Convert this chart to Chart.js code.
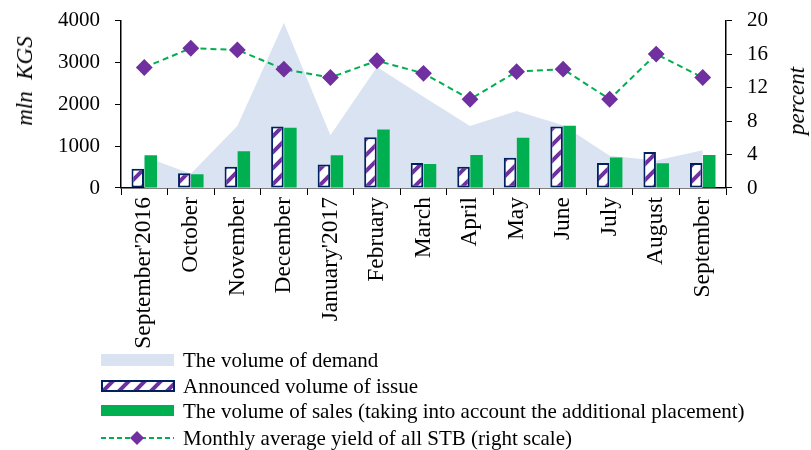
<!DOCTYPE html>
<html>
<head>
<meta charset="utf-8">
<script src="https://cdn.jsdelivr.net/npm/chart.js@4/dist/chart.umd.min.js"></script>
<style>
    body { margin: 0; background: #fff; }
    #wrap { position: relative; width: 811px; height: 450px; overflow: hidden; background: #fff; font-family: "Liberation Serif", "Times New Roman", serif; color: #000; }
    #c { position: absolute; left: 0; top: -7px; }
    .axt { position: absolute; font-size: 23px; font-style: italic; white-space: pre; transform: translate(-50%, -50%) rotate(-90deg); }
    .row { position: absolute; left: 100px; height: 26px; }
    .row canvas { position: absolute; left: 0; top: 5px; }
    .row span { position: absolute; left: 83px; top: 0; line-height: 26px; font-size: 21px; white-space: nowrap; }
</style>
</head>
<body>
<div id="wrap">
    <canvas id="c" width="811" height="457"></canvas>
    <div class="axt" style="left:25px; top:81px;">mln  KGS</div>
    <div class="axt" style="left:797px; top:101px;">percent</div>
    <div id="legend"></div>
</div>
<script>
const months = ["September'2016", "October", "November", "December", "January'2017", "February", "March", "April", "May", "June", "July", "August", "September"];
const demand = [750, 340, 1480, 3950, 1260, 2890, 2180, 1480, 1840, 1500, 770, 660, 905];
const announced = [460, 350, 510, 1470, 560, 1210, 600, 510, 720, 1470, 600, 860, 600];
const sales = [780, 330, 880, 1440, 780, 1400, 575, 790, 1200, 1490, 730, 590, 790];
const yieldPct = [14.4, 16.7, 16.5, 14.2, 13.2, 15.2, 13.7, 10.6, 13.9, 14.2, 10.6, 16.0, 13.2];
const seriesNames = [
    "The volume of demand",
    "Announced volume of issue",
    "The volume of sales (taking into account the additional placement)",
    "Monthly average yield of all STB (right scale)"
];

const AREA = '#dae3f1', NAVY = '#002060', PURPLE = '#7030a0', GREEN = '#00b050';
const FONT = "Liberation Serif";

function stripes(ctx) {
    let c = document.createElement('canvas');
    c.width = 16; c.height = 16;
    let g = c.getContext('2d');
    g.fillStyle = '#fff';
    g.fillRect(0, 0, 16, 16);
    g.strokeStyle = PURPLE;
    g.lineWidth = 4;
    g.beginPath();
    g.moveTo(-4, 20); g.lineTo(20, -4);
    g.moveTo(-4, 4); g.lineTo(4, -4);
    g.moveTo(12, 20); g.lineTo(20, 12);
    g.stroke();
    return ctx.createPattern(c, 'repeat');
}

const mainCtx = document.getElementById('c').getContext('2d');

new Chart(mainCtx, {
    type: 'bar',
    data: {
        labels: months,
        datasets: [
            { type: 'line', label: seriesNames[0], data: demand, backgroundColor: AREA, borderWidth: 0, pointRadius: 0, fill: 'origin', tension: 0, order: 3, yAxisID: 'y' },
            { label: seriesNames[1], data: announced, backgroundColor: stripes(mainCtx), borderColor: NAVY, borderWidth: 2, borderSkipped: false, order: 2, yAxisID: 'y' },
            { label: seriesNames[2], data: sales, backgroundColor: GREEN, order: 2, yAxisID: 'y' },
            { type: 'line', label: seriesNames[3], data: yieldPct, borderColor: GREEN, borderWidth: 2, borderDash: [6, 4], pointStyle: 'rectRot', pointRadius: 7, pointBackgroundColor: PURPLE, pointBorderColor: PURPLE, fill: false, tension: 0, order: 1, yAxisID: 'y1' }
        ]
    },
    options: {
        responsive: false,
        animation: false,
        categoryPercentage: 0.56,
        barPercentage: 0.96,
        layout: { autoPadding: false, padding: { left: 0, right: 0, top: 20, bottom: 0 } },
        plugins: { legend: { display: false }, tooltip: { enabled: false } },
        scales: {
            x: {
                grid: { display: true, drawOnChartArea: false, color: '#000', tickLength: 7, offset: true },
                border: { color: '#000', width: 1.5 },
                ticks: { color: '#000', font: { family: FONT, size: 23.5 }, minRotation: 90, maxRotation: 90, autoSkip: false, padding: 2 },
                afterFit: s => { s.height = 262; }
            },
            y: {
                position: 'left', min: 0, max: 4000,
                ticks: { stepSize: 1000, color: '#000', font: { family: FONT, size: 21 }, padding: 15, callback: v => String(v) },
                grid: { drawOnChartArea: false, color: '#000', tickLength: 6 },
                border: { color: '#000', width: 1.5 },
                afterFit: s => { s.width = 121; }
            },
            y1: {
                position: 'right', min: 0, max: 20,
                ticks: { stepSize: 4, color: '#000', font: { family: FONT, size: 21 }, padding: 15 },
                grid: { drawOnChartArea: false, color: '#000', tickLength: 6 },
                border: { color: '#000', width: 1.5 },
                afterFit: s => { s.width = 85; }
            }
        }
    }
});

// legend below the chart
const rowTops = [347, 373, 398, 425];
const legend = document.getElementById('legend');
seriesNames.forEach((name, i) => {
    let row = document.createElement('div');
    row.className = 'row';
    row.style.top = rowTops[i] + 'px';
    let sw = document.createElement('canvas');
    sw.width = 76; sw.height = 16;
    let g = sw.getContext('2d');
    if (i == 0) { g.fillStyle = AREA; g.fillRect(1, 2, 73, 12); }
    if (i == 1) {
        g.fillStyle = stripes(g); g.fillRect(1, 3, 74, 11);
        g.strokeStyle = NAVY; g.lineWidth = 2; g.strokeRect(2, 3, 72, 10);
    }
    if (i == 2) { g.fillStyle = GREEN; g.fillRect(1, 2, 73, 11); }
    if (i == 3) {
        g.strokeStyle = GREEN; g.lineWidth = 2; g.setLineDash([5, 3]);
        g.beginPath(); g.moveTo(1, 8); g.lineTo(74, 8); g.stroke();
        g.fillStyle = PURPLE;
        g.beginPath(); g.moveTo(37, 1); g.lineTo(44, 8); g.lineTo(37, 15); g.lineTo(30, 8); g.closePath(); g.fill();
    }
    let txt = document.createElement('span');
    txt.textContent = name;
    row.appendChild(sw);
    row.appendChild(txt);
    legend.appendChild(row);
});
</script>
</body>
</html>
